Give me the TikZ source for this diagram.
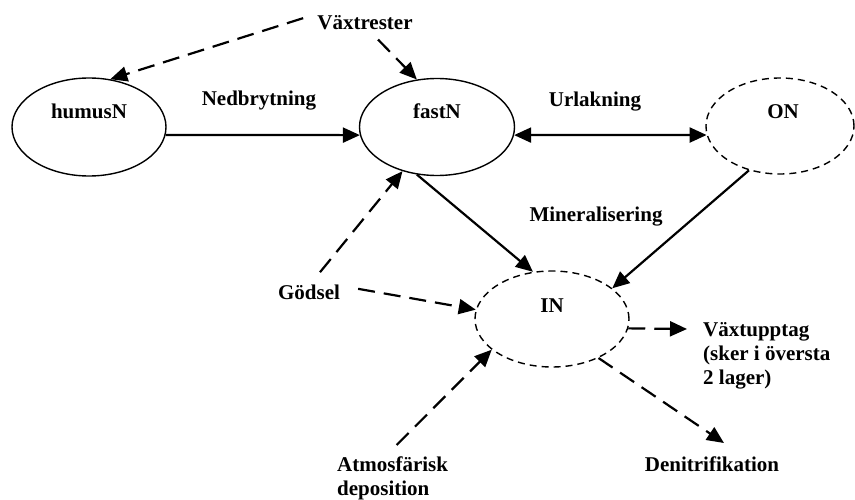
\documentclass[tikz,border=0pt]{standalone}
\usepackage{fontspec}
\setmainfont{Liberation Serif}
\usetikzlibrary{shapes.geometric,arrows.meta}
\begin{document}
\begin{tikzpicture}[x=1pt,y=-1pt,
  pool/.style={ellipse,draw,line width=1.4pt,minimum width=154pt,minimum height=98pt,inner sep=0pt},
  dpool/.style={pool,dash pattern=on 7pt off 5pt},
  lbl/.style={font=\bfseries\fontsize{21}{24}\selectfont,inner sep=0pt},
  tip/.style={-{Triangle[length=17pt,width=15pt]}},
  flow/.style={line width=2.2pt,tip},
  dflow/.style={flow,dash pattern=on 17pt off 9pt},
]
\useasboundingbox (0,0) rectangle (855,500);
% pools
\node[pool] (humusN) at (89,127) {};
\node[pool,minimum width=155pt,minimum height=97pt] (fastN) at (437,127) {};
\node[dpool,minimum width=148pt,minimum height=96pt] (ON) at (780,126) {};
\node[dpool,minimum width=154pt,minimum height=96pt] (IN) at (552,319) {};
% pool labels
\node[lbl,anchor=base] (thumus) at (89,119) {humusN};
\node[lbl,anchor=base] (tfast) at (437,119) {fastN};
\node[lbl,anchor=base] (tON) at (783,119) {ON};
\node[lbl,anchor=base] (tIN) at (552,312) {IN};
% process labels
\node[lbl,anchor=base] (vx) at (365,30) {Växtrester};
\node[lbl,anchor=base] (ned) at (259,106) {Nedbrytning};
\node[lbl,anchor=base] (url) at (595,107) {Urlakning};
\node[lbl,anchor=base] (min) at (596,222) {Mineralisering};
\node[lbl,anchor=base] (gd) at (309,299) {Gödsel};
\node[lbl,anchor=north west,align=left] (atm) at (337,457) {Atmosfärisk\\deposition};
\node[lbl,anchor=north west,align=left] (vu) at (703,322) {Växtupptag\\(sker i översta\\2 lager)};
\node[lbl,anchor=base] (den) at (712,471) {Denitrifikation};
% connectors
\draw[flow] (humusN.-6.7) -- (fastN.186.6);
\draw[line width=2.2pt,{Triangle[length=17pt,width=15pt]}-{Triangle[length=17pt,width=15pt]}] (fastN.-6.7) -- (ON.187.7);
\draw[flow] (fastN.247.4) -- (IN.112);
\draw[flow] (ON.235) -- (IN.27.3);
\draw[dflow] ([shift={(-14,-5)}]vx.west) -- (humusN.66.8);
\draw[dflow] ([shift={(13,9)}]vx.south) -- (fastN.113);
\draw[dflow] ([shift={(11,-12)}]gd.north) -- (fastN.232);
\draw[dflow] ([shift={(18,-3)}]gd.east) -- (IN.173.4);
\draw[dflow] ([shift={(4,-12)}]atm.north) -- (IN.207);
\draw[dflow] (IN.-7.4) -- ([shift={(-16,7)}]vu.north west);
\draw[dflow] (IN.-40) -- ([shift={(12,-13)}]den.north);
\end{tikzpicture}
\end{document}
